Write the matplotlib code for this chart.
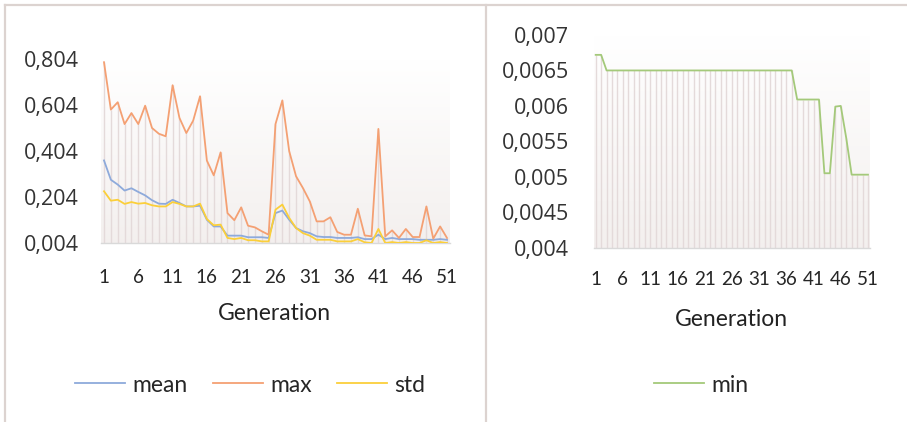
import matplotlib
matplotlib.use("Agg")
import matplotlib.pyplot as plt
from matplotlib.lines import Line2D
import numpy as np

# generations 1..51
generation = list(range(1, 52))

mean = [0.363, 0.279, 0.258, 0.232, 0.242, 0.226, 0.211, 0.190, 0.175, 0.174,
        0.192, 0.178, 0.163, 0.163, 0.166, 0.105, 0.076, 0.076, 0.036, 0.036,
        0.036, 0.029, 0.029, 0.029, 0.026, 0.134, 0.145, 0.105, 0.069, 0.055,
        0.047, 0.033, 0.030, 0.030, 0.026, 0.026, 0.026, 0.029, 0.021, 0.021,
        0.040, 0.021, 0.026, 0.021, 0.021, 0.021, 0.018, 0.018, 0.018, 0.021,
        0.018]
maxv = [0.790, 0.584, 0.616, 0.521, 0.569, 0.521, 0.601, 0.504, 0.479, 0.468,
        0.690, 0.548, 0.482, 0.536, 0.642, 0.362, 0.298, 0.398, 0.134, 0.103,
        0.159, 0.079, 0.072, 0.055, 0.040, 0.521, 0.624, 0.403, 0.294, 0.243,
        0.185, 0.098, 0.098, 0.116, 0.052, 0.040, 0.040, 0.153, 0.037, 0.033,
        0.500, 0.033, 0.059, 0.026, 0.065, 0.030, 0.030, 0.163, 0.023, 0.076,
        0.026]
std = [0.229, 0.188, 0.192, 0.174, 0.182, 0.175, 0.178, 0.168, 0.163, 0.163,
       0.182, 0.174, 0.163, 0.163, 0.175, 0.108, 0.081, 0.084, 0.026, 0.021,
       0.026, 0.016, 0.016, 0.011, 0.011, 0.149, 0.171, 0.113, 0.069, 0.047,
       0.036, 0.018, 0.018, 0.018, 0.011, 0.011, 0.011, 0.021, 0.007, 0.004,
       0.065, 0.004, 0.008, 0.004, 0.008, 0.004, 0.004, 0.016, 0.004, 0.008,
       0.004]
minv = [0.00672, 0.00672] + [0.0065] * 35 + [0.00609] * 5 + \
       [0.00505, 0.00505, 0.00599, 0.00600, 0.00555] + [0.00503] * 4

xticks = list(range(1, 52, 5))
left_yticks = [0.004, 0.204, 0.404, 0.604, 0.804]
left_ylabels = ["0,004", "0,204", "0,404", "0,604", "0,804"]
right_yticks = [0.004, 0.0045, 0.005, 0.0055, 0.006, 0.0065, 0.007]
right_ylabels = ["0,004", "0,0045", "0,005", "0,0055", "0,006", "0,0065", "0,007"]

C_MEAN = "#8eaadb"
C_MAX = "#f4a073"
C_STD = "#fbcf3a"
C_MIN = "#a4c97a"
DROP = "#e4dada"
BORDER = "#dcd3d0"

W, H = 907, 422
fig = plt.figure(figsize=(W / 100, H / 100), dpi=100)


def px_rect(x0, y0, x1, y1):
    return [x0 / W, 1 - y1 / H, (x1 - x0) / W, (y1 - y0) / H]


def setup(ax, yticks, ylabels, ypad, xpad):
    for s in ["top", "left", "right"]:
        ax.spines[s].set_visible(False)
    ax.spines["bottom"].set_color("#d9d9d9")
    ax.spines["bottom"].set_linewidth(1.0)
    ax.set_xticks(xticks)
    ax.set_xticklabels([str(t) for t in xticks], family="Lato", fontsize=13.6,
                       color="#262626")
    ax.set_yticks(yticks)
    ax.set_yticklabels(ylabels, family="Open Sans", fontsize=15.5, color="#333333")
    ax.tick_params(axis="both", length=0)
    ax.tick_params(axis="y", pad=ypad)
    ax.tick_params(axis="x", pad=xpad)
    ax.patch.set_alpha(0)


def gradient(ax, y0, y1, x0, x1):
    g = np.linspace(0, 1, 100).reshape(-1, 1)
    cols = np.ones((100, 1, 3))
    low = np.array([0.955, 0.94, 0.935])
    for i in range(100):
        cols[i, 0] = low + (1 - low) * g[i, 0]
    ax.imshow(cols, extent=[x0, x1, y0, y1], origin="lower", aspect="auto", zorder=0)


# left chart
ax1 = fig.add_axes(px_rect(101, 59, 450, 243))
setup(ax1, left_yticks, left_ylabels, 16, 19)
gradient(ax1, 0.004, 0.804, 0.563, 51.44)
top1 = np.maximum(np.maximum(mean, maxv), std)
ax1.vlines(generation, 0.004, top1, color=DROP, lw=1.0, zorder=1)
ax1.plot(generation, mean, color=C_MEAN, lw=1.3, label="mean", zorder=3)
ax1.plot(generation, maxv, color=C_MAX, lw=1.3, label="max", zorder=3)
ax1.plot(generation, std, color=C_STD, lw=1.3, label="std", zorder=3)
ax1.set_xlim(0.563, 51.44)
ax1.set_ylim(0.004, 0.804)

# right chart
ax2 = fig.add_axes(px_rect(594, 35, 870, 247.7))
setup(ax2, right_yticks, right_ylabels, 18, 17)
gradient(ax2, 0.004, 0.007, 0.69, 51.37)
ax2.vlines(generation, 0.004, minv, color=DROP, lw=1.0, zorder=1)
ax2.plot(generation, minv, color=C_MIN, lw=1.3, label="min", zorder=3)
ax2.set_xlim(0.69, 51.37)
ax2.set_ylim(0.004, 0.007)

# axis titles
fig.text(274.5 / W, 1 - 314 / H, "Generation", family="Lato", fontsize=16.5,
         color="#222222", ha="center", va="center")
fig.text(731 / W, 1 - 319 / H, "Generation", family="Lato", fontsize=16.5,
         color="#222222", ha="center", va="center")

# legends
leg_kw = dict(loc="center", frameon=False, handlelength=2.2, handletextpad=0.3,
              columnspacing=1.1, prop={"family": "Lato", "size": 16.5},
              bbox_transform=fig.transFigure, labelcolor="#262626")
ax1.legend(ncol=3, bbox_to_anchor=(250 / W, 1 - 385 / H), **leg_kw)
ax2.legend(ncol=1, bbox_to_anchor=(701 / W, 1 - 385 / H), **leg_kw)

# chart borders
for xs, ys in [([5, 5], [5, H]), ([5, W], [5, 5]), ([486, 486], [5, H])]:
    fig.add_artist(Line2D([x / W for x in xs], [1 - y / H for y in ys],
                          transform=fig.transFigure, color=BORDER, lw=1.6))

fig.savefig("out.png", dpi=100)
